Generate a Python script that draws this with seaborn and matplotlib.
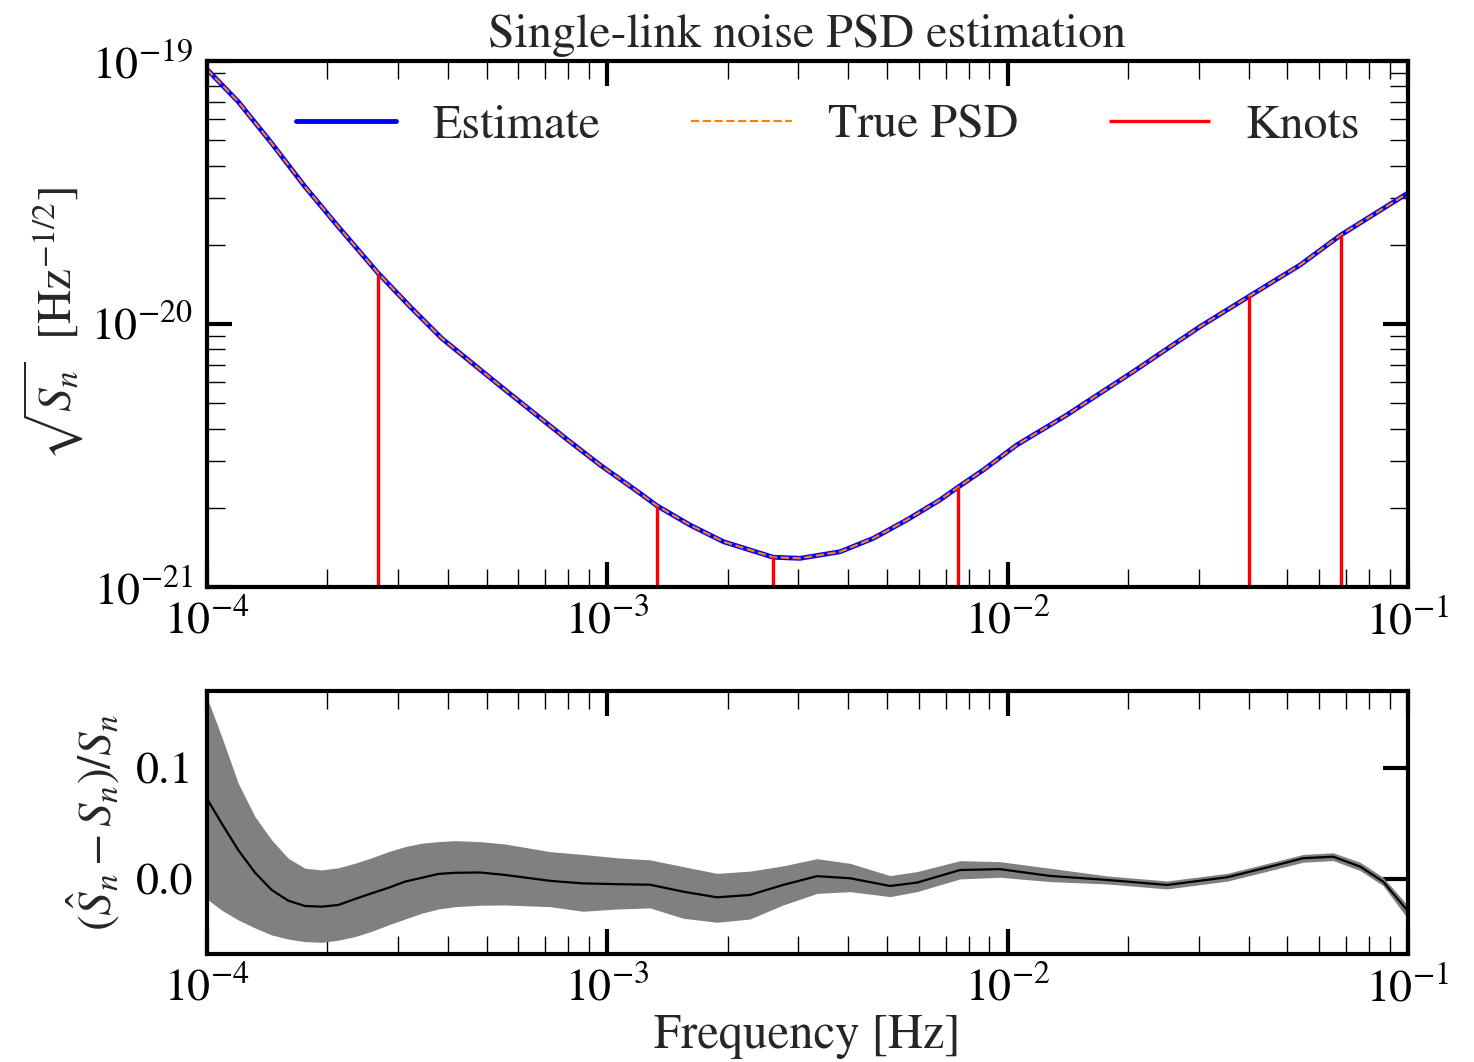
import numpy as np
import matplotlib
matplotlib.use("Agg")
import matplotlib.pyplot as plt
import seaborn as sns
from matplotlib.ticker import LogLocator, NullFormatter, FixedLocator

# ---------------- data ----------------
psd_freq = [1.0e-4, 1.197e-4, 1.451e-4, 1.757e-4, 2.128e-4, 2.678e-4, 3.246e-4,
            3.858e-4, 5.395e-4, 7.918e-4, 9.59e-4, 1.207e-3, 1.328e-3, 1.609e-3,
            1.949e-3, 2.598e-3, 3.030e-3, 3.814e-3, 4.618e-3, 5.596e-3, 6.777e-3,
            7.53e-3, 8.697e-3, 1.054e-2, 1.405e-2, 2.061e-2, 3.024e-2, 4.017e-2,
            5.375e-2, 6.794e-2, 1.0e-1]
estimate_asd = [9.3e-20, 7.00e-20, 4.865e-20, 3.327e-20, 2.344e-20, 1.559e-20, 1.147e-20,
                8.82e-21, 5.82e-21, 3.648e-21, 2.911e-21, 2.271e-21, 2.04e-21, 1.720e-21,
                1.487e-21, 1.297e-21, 1.285e-21, 1.361e-21, 1.531e-21, 1.797e-21, 2.142e-21,
                2.40e-21, 2.786e-21, 3.467e-21, 4.508e-21, 6.592e-21, 9.77e-21, 1.276e-20,
                1.675e-20, 2.178e-20, 3.148e-20]
true_asd = list(estimate_asd)

knot_freq = [2.669e-4, 1.328e-3, 2.598e-3, 7.53e-3, 4.017e-2, 6.794e-2]
knot_height = [1.55e-20, 2.04e-21, 1.297e-21, 2.40e-21, 1.276e-20, 2.178e-20]

res_freq = [1.000e-4, 1.088e-4, 1.197e-4, 1.318e-4, 1.451e-4, 1.596e-4, 1.757e-4,
            1.934e-4, 2.128e-4, 2.343e-4, 2.579e-4, 2.838e-4, 3.124e-4, 3.439e-4,
            3.784e-4, 4.164e-4, 4.808e-4, 5.553e-4, 7.193e-4, 8.695e-4,
            1.0574e-3, 1.279e-3, 1.546e-3, 1.879e-3, 2.272e-3, 2.748e-3, 3.341e-3,
            4.040e-3, 5.085e-3, 5.939e-3, 7.605e-3, 9.572e-3, 1.2762e-2, 1.772e-2,
            2.502e-2, 3.533e-2, 4.523e-2, 5.470e-2, 6.501e-2, 7.593e-2, 8.668e-2, 1.0e-1]
res_mean = [0.072, 0.050, 0.026, 0.0057, -0.0099, -0.0195, -0.0243,
            -0.0249, -0.0234, -0.018, -0.0129, -0.008, -0.0024, 0.001,
            0.0045, 0.0055, 0.0058, 0.0036, -0.0017, -0.004,
            -0.0047, -0.0052, -0.0114, -0.0165, -0.0144, -0.0054, 0.0025,
            0.0006, -0.0063, -0.0033, 0.008, 0.0088, 0.0027, -0.0009,
            -0.0054, 0.0015, 0.011, 0.0186, 0.020, 0.0111, -0.0024, -0.029]
res_low = [-0.018, -0.028, -0.0368, -0.044, -0.0503, -0.054, -0.0563,
           -0.0569, -0.055, -0.0518, -0.047, -0.0413, -0.036, -0.0308,
           -0.027, -0.0249, -0.0236, -0.0234, -0.0249, -0.029,
           -0.027, -0.026, -0.0353, -0.0389, -0.036, -0.0234, -0.013,
           -0.0114, -0.0159, -0.0114, 0.0, 0.0015, -0.0024, -0.0045,
           -0.009, -0.002, 0.0075, 0.015, 0.0165, 0.0075, -0.006, -0.036]
res_high = [0.163, 0.128, 0.086, 0.056, 0.035, 0.0186, 0.0096,
            0.0081, 0.010, 0.0141, 0.019, 0.0245, 0.029, 0.0321,
            0.0335, 0.0344, 0.0335, 0.0314, 0.0245, 0.022,
            0.019, 0.0171, 0.0111, 0.005, 0.007, 0.0117, 0.0182,
            0.014, 0.003, 0.0066, 0.0164, 0.0155, 0.0096, 0.0027,
            -0.0018, 0.005, 0.0145, 0.022, 0.0235, 0.015, 0.0015, -0.024]

# ---------------- style ----------------
sns.set_theme(style="ticks")
plt.rcParams.update({
    "font.family": ["STIXGeneral", "DejaVu Serif"],
    "mathtext.fontset": "stix",
    "axes.linewidth": 3.0,
    "xtick.direction": "in", "ytick.direction": "in",
    "xtick.top": True, "ytick.right": True,
    "xtick.major.size": 18, "ytick.major.size": 18,
    "xtick.minor.size": 13, "ytick.minor.size": 13,
    "xtick.major.width": 3.0, "ytick.major.width": 3.0,
    "xtick.minor.width": 1.0, "ytick.minor.width": 1.0,
    "xtick.major.pad": 10, "ytick.major.pad": 10,
    "xtick.labelsize": 33, "ytick.labelsize": 33,
    "xtick.color": "black", "ytick.color": "black",
    "axes.edgecolor": "black",
})

fig = plt.figure(figsize=(14.74, 10.62), dpi=100)
ax1 = fig.add_axes([0.1404, 0.4473, 0.8148, 0.4953])
ax2 = fig.add_axes([0.1404, 0.1017, 0.8148, 0.2479])

# ---- top panel ----
ax1.set_xscale("log")
ax1.set_yscale("log")
sns.lineplot(x=psd_freq, y=estimate_asd, ax=ax1, color="blue", lw=3.5, label="Estimate")
sns.lineplot(x=psd_freq, y=true_asd, ax=ax1, color="#ff7f0e", lw=1.6, ls="--", label="True PSD")
ax1.vlines(knot_freq, 1e-21, knot_height, color="red", lw=2.4, label="Knots")
ax1.set_xlim(1e-4, 1e-1)
ax1.set_ylim(1e-21, 1e-19)
ax1.text(0.5, 1.027, "Single-link noise PSD estimation", transform=ax1.transAxes,
         ha="center", va="baseline", fontsize=34.5)
ax1.set_ylabel(r"$\sqrt{S_n}$  [Hz$^{-1/2}$]", fontsize=34, labelpad=4)
h, l = ax1.get_legend_handles_labels()
ax1.legend(h, l, loc="upper center", bbox_to_anchor=(0.517, 0.972), ncol=3,
           frameon=False, fontsize=34.5, handlelength=2.1, handletextpad=0.75,
           columnspacing=1.9, borderaxespad=0.2)
ax1.xaxis.set_minor_locator(LogLocator(base=10, subs=np.arange(2, 10), numticks=20))
ax1.yaxis.set_minor_locator(LogLocator(base=10, subs=np.arange(2, 10), numticks=20))
ax1.xaxis.set_minor_formatter(NullFormatter())
ax1.yaxis.set_minor_formatter(NullFormatter())

# ---- bottom panel ----
ax2.set_xscale("log")
ax2.fill_between(res_freq, res_low, res_high, color="gray", lw=0)
sns.lineplot(x=res_freq, y=res_mean, ax=ax2, color="black", lw=1.6)
ax2.set_xlim(1e-4, 1e-1)
ax2.set_ylim(-0.0674, 0.169)
ax2.yaxis.set_major_locator(FixedLocator([0.0, 0.1]))
ax2.set_yticklabels(["0.0", "0.1"])
ax2.xaxis.set_minor_locator(LogLocator(base=10, subs=np.arange(2, 10), numticks=20))
ax2.xaxis.set_minor_formatter(NullFormatter())
ax2.set_ylabel(r"$(\hat{S}_n - S_n)/S_n$", fontsize=34, labelpad=10)
ax2.set_xlabel("Frequency [Hz]", fontsize=35, labelpad=2)

for ax in (ax1, ax2):
    ax.tick_params(which="both", top=True, right=True, direction="in")
    for s in ax.spines.values():
        s.set_linewidth(3.0)
        s.set_color("black")

fig.savefig("out.png", dpi=100)
